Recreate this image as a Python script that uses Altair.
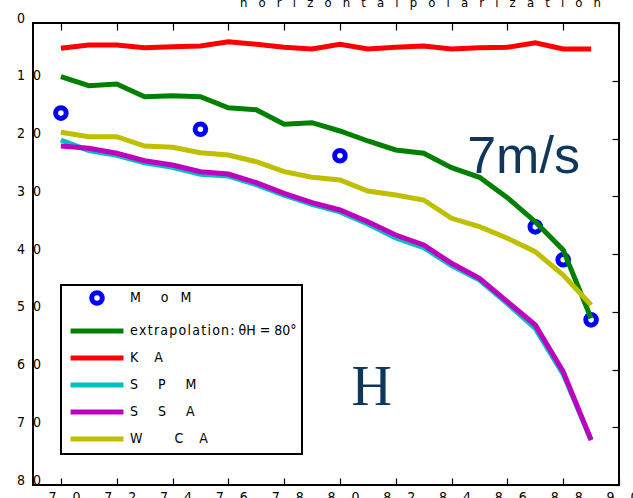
import altair as alt
import pandas as pd

NB = "\u00a0"
HAIR = "\u200a"
FONT = "Liberation Sans Narrow, DejaVu Sans Condensed, Arial Narrow, sans-serif"
NAVY = "#0f375c"


def spaced(word, n, ch=NB):
    return (ch * n).join(word)


# ---------------- data ----------------
angle = list(range(70, 90))  # incidence angle (deg)
extrap_vals = [9.30, 10.86, 10.56, 12.76, 12.59, 12.76, 14.67, 15.01, 17.54, 17.26,
               18.70, 20.43, 21.99, 22.56, 25.06, 26.72, 30.25, 34.41, 39.31, 51.13]
ka_vals = [4.38, 3.81, 3.81, 4.28, 4.10, 3.98, 3.24, 3.69, 4.21, 4.50,
           3.69, 4.50, 4.21, 3.98, 4.50, 4.28, 4.21, 3.41, 4.50, 4.50]
spm_vals = [20.26, 22.10, 22.90, 24.20, 25.00, 26.20, 26.50, 28.00, 29.80, 31.40,
            32.70, 34.80, 37.20, 38.90, 42.00, 44.50, 48.60, 52.90, 60.80, 72.20]
ssa_vals = [21.30, 21.70, 22.56, 23.84, 24.59, 25.75, 26.15, 27.65, 29.49, 31.12,
            32.38, 34.41, 36.71, 38.44, 41.61, 44.21, 48.26, 52.29, 60.38, 72.21]
wca_vals = [18.93, 19.69, 19.69, 21.30, 21.52, 22.46, 22.86, 24.02, 25.75, 26.72,
            27.19, 29.09, 29.78, 30.65, 33.82, 35.27, 37.28, 39.60, 43.64, 48.83]
mom_angle = [70, 75, 80, 87, 88, 89]
mom_vals = [15.6, 18.4, 23.0, 35.3, 41.0, 51.4]

x_ticks = [70, 72, 74, 76, 78, 80, 82, 84, 86, 88, 90]
y_ticks = [0, 10, 20, 30, 40, 50, 60, 70, 80]

# legend texts (as rendered in the figure)
lab_mom = "M" + NB * 5 + "o" + NB * 3 + "M"
lab_ext = spaced("extrapolation:", 1, HAIR) + NB + "θH" + NB + "=" + NB + "80°"
lab_ka = spaced("KA", 4)
lab_spm = spaced("SPM", 5)
lab_ssa = spaced("SSA", 5)
lab_wca = "W" + NB * 8 + "C" + NB * 4 + "A"
series_order = [lab_mom, lab_ext, lab_ka, lab_spm, lab_ssa, lab_wca]
series_colors = ["#0000ff", "#008000", "#ff0000", "#00bfbf", "#bf00bf", "#bfbf00"]
LINE_SYMBOL = "M-5,0L5,0"
series_shapes = ["circle", LINE_SYMBOL, LINE_SYMBOL, LINE_SYMBOL, LINE_SYMBOL, LINE_SYMBOL]

title_text = (NB * 3).join(spaced(w, 3) for w in ["horizontal", "polarization"])

ann_wind_x, ann_wind_y, ann_wind_t = [84.56], [25.97], ["7m/s"]
ann_pol_x, ann_pol_y, ann_pol_t = [81.14], [66.15], ["H"]

# ---------------- tables ----------------
rows = []
for name, vals in [(lab_ext, extrap_vals), (lab_ka, ka_vals), (lab_spm, spm_vals),
                   (lab_ssa, ssa_vals), (lab_wca, wca_vals)]:
    for a, v in zip(angle, vals):
        rows.append({"x": a, "y": v, "series": name})
lines_df = pd.DataFrame(rows)
mom_df = pd.DataFrame({"x": mom_angle, "y": mom_vals, "series": [lab_mom] * len(mom_angle)})
wind_df = pd.DataFrame({"x": ann_wind_x, "y": ann_wind_y, "t": ann_wind_t})
pol_df = pd.DataFrame({"x": ann_pol_x, "y": ann_pol_y, "t": ann_pol_t})

xscale = alt.Scale(domain=[69, 90], nice=False, zero=False)
yscale = alt.Scale(domain=[0, 80], reverse=True, nice=False, zero=False)
cscale = alt.Scale(domain=series_order, range=series_colors)
sscale = alt.Scale(domain=series_order, range=series_shapes)

x_split = "substring(datum.label,0,1) + '" + NB * 4 + "' + substring(datum.label,1)"
y_split = "substring(datum.label,0,1) + '" + NB * 2 + "' + substring(datum.label,1)"

x_label_axis = alt.Axis(orient="bottom", values=x_ticks, labelExpr=x_split, ticks=False,
                        tickSize=0, domain=False, grid=False, labelPadding=5, labelFont=FONT,
                        labelFontSize=14, labelFlush=False, labelOverlap=False, labelBound=False,
                        labelColor="black", labelOffset=3, title=None)
y_label_axis = alt.Axis(orient="left", values=y_ticks, labelExpr=y_split, ticks=False,
                        tickSize=0, domain=False, grid=False, labelAlign="left", labelPadding=16.5,
                        labelOffset=-5, labelFont=FONT, labelFontSize=14, labelFlush=False,
                        labelOverlap=False, labelBound=False, labelColor="black", title=None)
top_tick_axis = alt.Axis(orient="top", values=x_ticks, labels=False, domain=False, grid=False,
                         ticks=True, tickSize=7, offset=-7, tickColor="black", tickWidth=1.2, title=None)
right_tick_axis = alt.Axis(orient="right", values=y_ticks, labels=False, domain=False, grid=False,
                           ticks=True, tickSize=7, offset=-7, tickColor="black", tickWidth=1.2, title=None)
bottom_tick_axis = alt.Axis(orient="bottom", values=x_ticks, labels=False, domain=False, grid=False,
                            ticks=True, tickSize=7, offset=-7, tickColor="black", tickWidth=1.2, title=None)

legend = alt.Legend(title=None, orient="none", legendX=28, legendY=262, padding=5,
                    strokeColor="black", fillColor="white", symbolSize=112, symbolStrokeWidth=5,
                    symbolOffset=23, labelOffset=25, rowPadding=7, labelFont=FONT,
                    labelFontSize=14, labelLimit=400, labelColor="black")

points = alt.Chart(mom_df).mark_point(filled=False, strokeWidth=5, size=112, opacity=1).encode(
    x=alt.X("x:Q", scale=xscale, axis=top_tick_axis),
    y=alt.Y("y:Q", scale=yscale, axis=right_tick_axis),
    color=alt.Color("series:N", scale=cscale, legend=legend),
    shape=alt.Shape("series:N", scale=sscale, legend=legend),
)

lines = alt.Chart(lines_df).mark_line(strokeWidth=5).encode(
    x=alt.X("x:Q", scale=xscale, axis=x_label_axis),
    y=alt.Y("y:Q", scale=yscale, axis=y_label_axis),
    color=alt.Color("series:N", scale=cscale, legend=None),
)

wind = alt.Chart(wind_df).mark_text(font="Liberation Sans, Arial, sans-serif", fontSize=52,
                                    align="left", baseline="alphabetic", color=NAVY).encode(
    x=alt.X("x:Q", scale=xscale, axis=bottom_tick_axis),
    y=alt.Y("y:Q", scale=yscale, axis=None),
    text="t:N",
)

pol = alt.Chart(pol_df).mark_text(font="Liberation Serif, Times New Roman, serif", fontSize=56,
                                  align="center", baseline="alphabetic", color=NAVY).encode(
    x=alt.X("x:Q", scale=xscale, axis=None),
    y=alt.Y("y:Q", scale=yscale, axis=None),
    text="t:N",
)

chart = alt.layer(points, lines, wind, pol).resolve_axis(
    x="independent", y="independent"
).properties(
    width=586,
    height=462,
    title=alt.TitleParams(text=title_text, anchor="start", dx=207, offset=0, dy=9,
                          baseline="alphabetic", frame="group", font=FONT, fontSize=13,
                          fontWeight="normal", color="black"),
    autosize=alt.AutoSizeParams(type="none"),
    padding={"left": 33, "top": 23, "right": 14, "bottom": 13},
).configure_view(stroke="black", strokeWidth=2).configure_legend(strokeWidth=2)

chart.save("out.html", embed_options={"renderer": "svg", "actions": False})
